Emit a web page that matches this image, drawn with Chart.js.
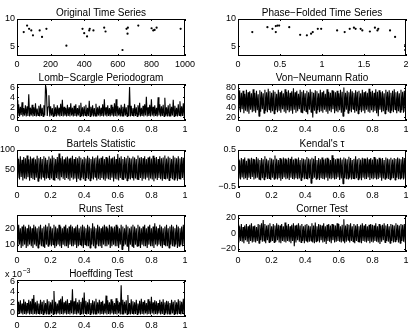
<!DOCTYPE html>
<html>
<head>
<meta charset="utf-8">
<script src="https://cdn.jsdelivr.net/npm/chart.js@4.4.1/dist/chart.umd.min.js"></script>
<style>
  html, body { margin: 0; padding: 0; background: #fff; }
  #figure { position: relative; width: 415px; height: 330px; overflow: hidden; }
  #figure canvas { position: absolute; }
</style>
</head>
<body>
<div id="figure"></div>
<script>
// Original light curve (time, magnitude)
const origTime = [40, 60, 72, 85, 95, 135, 149, 175, 294, 390, 400, 417, 430, 433, 455, 519, 527, 628, 652, 660, 658, 722, 801, 811, 819, 831, 974];
const origMag = [7.6, 8.8, 8.2, 7.9, 7.0, 7.9, 6.7, 8.2, 5.1, 8.2, 7.4, 6.8, 7.9, 8.2, 7.9, 8.4, 7.7, 4.3, 8.2, 8.4, 7.3, 8.8, 8.3, 7.9, 8.0, 8.4, 8.2];

// Phase-folded curve
const phase = [0.17, 0.35, 0.41, 0.45, 0.45, 0.47, 0.49, 0.61, 0.74, 0.82, 0.87, 0.89, 0.95, 0.99, 1.18, 1.27, 1.33, 1.38, 1.40, 1.46, 1.48, 1.57, 1.63, 1.67, 1.66, 1.81, 1.87, 1.99, 1.99];
const phaseMag = [7.6, 8.5, 8.2, 7.6, 8.7, 8.8, 8.8, 8.5, 7.1, 7.0, 7.3, 7.6, 8.2, 8.2, 7.9, 7.6, 8.2, 8.4, 8.2, 8.2, 7.9, 7.7, 8.4, 8.2, 7.9, 7.9, 6.7, 5.2, 4.3];

// Statistics over the frequency grid 0..1 (evenly spaced samples)
const lombScargle = [
  3.4,0.2,2.6,0.1,2.1,0.4,3.0,0.1,1.8,0.3,2.4,0.1,2.2,0.2,4.6,0.1,1.9,0.3,2.5,0.1,
  2.0,0.2,2.8,0.1,1.7,0.3,2.3,0.1,2.6,0.2,1.9,0.1,2.4,0.3,6.5,5.4,0.2,2.1,4.4,0.1,
  2.2,0.3,1.8,0.1,2.6,0.2,2.0,0.1,2.4,0.3,1.9,0.1,2.7,0.2,3.5,0.1,2.1,0.3,1.8,0.1,
  2.5,0.2,2.0,0.1,2.8,0.3,1.9,0.1,2.3,0.2,2.6,0.1,1.8,0.3,2.4,0.1,2.9,0.2,2.0,0.1,
  2.2,0.3,2.5,0.1,1.9,0.2,3.3,0.1,2.1,0.3,2.4,0.1,1.8,0.2,2.7,0.1,2.0,0.3,2.3,0.1,
  1.9,0.2,2.6,0.1,3.6,0.3,2.0,0.1,2.4,0.2,1.8,0.1,2.5,0.3,2.1,0.1,2.8,0.2,3.6,0.1,
  2.2,0.3,1.9,0.1,2.5,0.2,2.1,0.1,2.7,0.3,2.0,0.1,2.4,0.2,6.1,0.1,2.3,0.3,1.8,0.1,
  2.6,0.2,2.0,0.1,2.4,0.3,2.9,0.1,1.9,0.2,2.3,0.1,2.6,0.3,4.1,0.1,2.0,0.2,2.5,0.1,
  3.6,0.3,2.1,0.1,2.4,0.2,1.9,0.1,4.0,0.3,2.6,0.1,2.2,0.2,2.5,0.1,3.9,0.3,2.0,0.1,
  2.4,0.2,2.7,0.1,2.1,0.3,3.5,0.1,2.3,0.2,1.9,0.1,2.6,0.3,3.2,0.1,2.2,0.2,2.8,0.1,
  4.5
];
const vonNeumann = [
  72,34,75,30,70,36,74,28,68,33,76,31,71,27,73,35,69,30,77,32,
  70,29,74,34,67,22,75,31,72,36,69,28,76,33,71,30,78,35,73,29,
  70,32,75,27,72,34,68,30,76,33,71,29,74,36,69,31,77,28,72,34,
  75,30,70,33,73,27,79,35,71,29,74,32,68,36,76,30,72,28,75,33,
  69,31,74,26,71,35,77,30,72,19,70,33,75,28,73,34,69,30,76,32,
  71,29,74,35,68,31,77,27,72,33,70,30,75,36,73,28,71,32,74,30,
  69,34,76,29,72,22,81,31,70,35,74,28,71,33,77,30,73,36,70,29,
  75,32,72,27,74,34,69,30,76,33,71,28,73,35,70,31,78,29,72,34,
  74,30,70,33,77,28,72,22,75,35,71,30,73,32,69,27,76,34,72,31,
  75,29,70,33,74,30,77,35,71,28,73,32,69,30,76,34,72,29,74,31,
  76
];
const bartels = [
  80,28,77,24,84,31,75,22,82,27,79,25,86,30,76,21,83,28,78,25,
  81,23,76,29,85,20,79,27,82,24,77,30,84,22,80,26,75,29,83,23,
  78,27,86,24,80,21,77,28,82,25,91,22,79,30,84,26,76,23,81,28,
  83,25,78,21,80,29,85,24,77,27,82,18,79,26,84,23,80,29,76,25,
  82,22,78,28,85,25,80,21,77,27,83,24,79,30,81,22,86,26,78,23,
  80,28,84,24,77,21,82,27,79,25,85,23,78,29,81,19,83,26,77,24,
  90,22,80,28,84,25,77,23,82,27,79,21,85,26,80,24,78,29,83,22,
  81,27,77,25,86,23,80,28,82,21,79,26,84,24,77,29,81,22,83,27,
  78,24,85,20,80,27,82,23,77,28,84,25,79,21,81,27,86,24,78,26,
  83,22,80,28,77,25,85,23,81,27,79,21,84,26,78,24,82,28,80,23,
  88
];
const kendallTau = [
  0.26,-0.27,0.22,-0.30,0.28,-0.24,0.25,-0.29,0.30,-0.26,0.21,-0.31,0.27,-0.25,0.24,-0.28,0.29,-0.23,0.26,-0.30,
  0.24,-0.27,0.31,-0.25,0.27,-0.29,0.23,-0.32,0.28,-0.26,0.25,-0.30,0.33,-0.24,0.26,-0.28,0.22,-0.27,0.29,-0.31,
  0.27,-0.25,0.24,-0.29,0.35,-0.27,0.26,-0.30,0.23,-0.26,0.28,-0.33,0.25,-0.28,0.30,-0.24,0.27,-0.29,0.24,-0.27,
  0.29,-0.31,0.26,-0.25,0.32,-0.28,0.24,-0.30,0.27,-0.26,0.25,-0.29,0.30,-0.27,0.23,-0.32,0.28,-0.25,0.26,-0.29,
  0.24,-0.27,0.31,-0.30,0.27,-0.26,0.25,-0.40,0.29,-0.28,0.26,-0.25,0.34,-0.29,0.23,-0.27,0.28,-0.31,0.25,-0.26,
  0.30,-0.28,0.24,-0.30,0.27,-0.25,0.29,-0.33,0.26,-0.27,0.23,-0.29,0.36,-0.26,0.28,-0.30,0.25,-0.28,0.27,-0.24,
  0.26,-0.31,0.29,-0.27,0.24,-0.41,0.30,-0.26,0.27,-0.29,0.25,-0.28,0.32,-0.25,0.28,-0.30,0.23,-0.27,0.26,-0.29,
  0.33,-0.26,0.25,-0.30,0.28,-0.27,0.24,-0.32,0.29,-0.25,0.27,-0.29,0.26,-0.28,0.30,-0.24,0.25,-0.31,0.28,-0.27,
  0.24,-0.29,0.31,-0.26,0.27,-0.30,0.25,-0.28,0.29,-0.25,0.26,-0.33,0.28,-0.27,0.23,-0.29,0.30,-0.26,0.27,-0.28,
  0.25,-0.30,0.29,-0.27,0.24,-0.26,0.28,-0.31,0.26,-0.25,0.30,-0.29,0.27,-0.28,0.25,-0.26,0.31,-0.30,0.28,-0.27,
  0.33
];
const runsTest = [
  21,9,22,10,20,8,21,9,22,10,21,8,20,9,22,10,21,9,20,8,
  22,10,21,9,20,8,21,10,22,9,20,9,21,8,22,10,21,9,23,10,
  21,9,20,10,22,8,21,9,20,10,22,9,21,8,20,10,21,9,22,9,
  20,8,21,10,22,9,21,9,20,10,21,8,22,9,20,10,21,9,22,8,
  21,10,20,9,22,9,21,8,20,10,23,9,21,8,20,10,22,9,21,9,
  20,8,21,10,22,9,21,9,20,10,22,8,21,9,20,10,21,9,22,9,
  21,8,20,10,22,7,21,9,20,10,22,9,21,6,20,10,21,9,22,8,
  21,10,20,9,22,9,21,8,20,10,21,9,22,9,20,8,21,10,22,9,
  20,9,21,8,23,10,21,9,20,10,22,9,21,8,20,10,21,9,22,9,
  20,8,21,10,22,9,21,9,20,10,22,8,21,9,20,10,21,9,22,10,
  21
];
const cornerTest = [
  11,-12,9,-10,12,-11,8,-13,10,-9,12,-11,9,-14,11,-10,13,-12,9,-11,
  10,-12,8,-10,12,-13,11,-9,13,-11,17,-10,12,-13,10,-9,11,-12,13,-11,
  9,-10,12,-12,10,-11,13,-9,11,-12,10,-13,12,-10,9,-11,14,-12,10,-10,
  12,-11,9,-13,11,-10,13,-17,10,-12,11,-9,13,-11,10,-12,12,-10,9,-13,
  11,-10,12,-12,10,-11,9,-10,13,-12,10,-13,14,-11,9,-10,12,-12,11,-9,
  10,-12,13,-11,9,-14,11,-10,12,-11,10,-13,12,-9,11,-12,10,-11,13,-10,
  12,-11,9,-12,11,-10,18,-13,10,-11,12,-9,11,-12,13,-10,9,-11,12,-13,
  10,-10,12,-11,9,-12,11,-13,13,-10,10,-11,12,-12,9,-10,11,-13,12,-11,
  11,-12,10,-10,13,-11,9,-12,12,-14,10,-11,11,-9,13,-12,10,-10,12,-11,
  9,-13,12,-10,11,-12,10,-11,13,-9,11,-12,10,-13,12,-10,11,-11,12,-12,
  11
];
// Hoeffding values in units of 1e-3
const hoeffding = [
  2.3,-0.3,2.0,-0.2,2.4,-0.1,1.8,-0.3,2.6,-0.2,2.1,-0.3,1.9,-0.1,2.5,-0.3,2.2,-0.2,2.7,-0.3,
  3.4,-0.2,2.0,-0.3,2.3,-0.1,1.8,-0.3,2.5,-0.2,2.1,-0.3,2.4,-0.1,1.9,-0.3,2.6,-0.2,2.2,-0.3,
  2.0,-0.1,2.5,-0.3,4.2,-0.2,2.1,-0.3,1.8,-0.1,2.4,-0.3,2.7,-0.2,3.2,-0.3,2.0,-0.1,2.3,-0.3,
  2.6,-0.2,1.9,-0.3,2.4,-0.1,4.5,-0.3,2.2,-0.2,2.8,-0.3,2.0,-0.1,2.5,-0.3,2.1,-0.2,2.9,-0.3,
  3.9,-0.1,2.3,-0.3,2.0,-0.2,2.6,-0.3,1.9,-0.1,2.4,-0.3,2.2,-0.2,2.7,-0.3,2.0,-0.1,2.5,-0.3,
  2.1,-0.2,2.3,-0.3,1.8,-0.1,3.3,-0.3,2.4,-0.2,2.0,-0.3,2.6,-0.1,2.2,-0.3,1.9,-0.2,2.8,-0.3,
  2.3,-0.1,2.0,-0.3,5.3,-0.2,2.5,-0.3,2.1,-0.1,2.4,-0.3,3.4,-0.2,1.9,-0.3,2.6,-0.1,2.2,-0.3,
  2.0,-0.2,2.5,-0.3,1.8,-0.1,2.3,-0.3,2.7,-0.2,2.1,-0.3,2.4,-0.1,1.9,-0.3,2.6,-0.2,2.2,-0.3,
  3.1,-0.1,2.0,-0.3,2.4,-0.2,2.2,-0.3,1.9,-0.1,2.5,-0.3,2.1,-0.2,2.6,-0.3,2.0,-0.1,2.3,-0.3,
  2.2,-0.2,1.9,-0.3,2.5,-0.1,2.1,-0.3,2.4,-0.2,2.0,-0.3,2.6,-0.1,2.3,-0.3,2.1,-0.2,2.7,-0.3,
  3.3
];

// tick values
const timeTicks = [0, 200, 400, 600, 800, 1000];
const phaseTicks = [0, 0.5, 1, 1.5, 2];
const freqTicks = [0, 0.2, 0.4, 0.6, 0.8, 1];
const magTicks = [5, 10];
const lombTicks = [0, 2, 4, 6];
const vonTicks = [20, 40, 60, 80];
const bartelsTicks = [50, 100];
const kendallTicks = [-0.5, 0, 0.5];
const runsTicks = [10, 20];
const cornerTicks = [-20, 0, 20];
const hoeffTicks = [0, 2, 4, 6];

const FONT = '"Liberation Sans", Arial, Helvetica, sans-serif';
const colLeft = [17, 238];
const rowTop = [19, 84, 150, 215, 280];
const boxW = 168, boxH = 37;
const padTop = 18, padBottom = 13;

function pairs(xs, ys) {
  return xs.map((x, i) => ({ x: x, y: ys[i] }));
}
function overFreq(vals) {
  return vals.map((v, i) => ({ x: i / (vals.length - 1), y: v }));
}

const matlabAxes = {
  id: 'matlabAxes',
  afterDraw(chart, args, opts) {
    const { ctx, chartArea: a, scales } = chart;
    ctx.save();
    ctx.strokeStyle = '#000';
    ctx.lineWidth = 1;
    ctx.strokeRect(a.left + 0.5, a.top + 0.5, a.right - a.left - 1, a.bottom - a.top - 1);
    ctx.beginPath();
    scales.x.ticks.forEach(t => {
      const px = Math.round(scales.x.getPixelForValue(t.value)) + 0.5;
      ctx.moveTo(px, a.bottom); ctx.lineTo(px, a.bottom - 2);
      ctx.moveTo(px, a.top); ctx.lineTo(px, a.top + 2);
    });
    scales.y.ticks.forEach(t => {
      const py = Math.round(scales.y.getPixelForValue(t.value)) + 0.5;
      ctx.moveTo(a.left, py); ctx.lineTo(a.left + 2, py);
      ctx.moveTo(a.right, py); ctx.lineTo(a.right - 2, py);
    });
    ctx.stroke();

    ctx.fillStyle = '#000';
    ctx.font = '10px ' + FONT;
    ctx.textAlign = 'center';
    ctx.textBaseline = 'alphabetic';
    ctx.fillText(opts.title, (a.left + a.right) / 2, a.top - 3);
    if (opts.exponent) {
      ctx.textAlign = 'left';
      ctx.font = '9px ' + FONT;
      ctx.fillText('x 10', a.left - 12, a.top - 3);
      const w = ctx.measureText('x 10').width;
      ctx.font = '7px ' + FONT;
      ctx.fillText(opts.exponent, a.left - 12 + w + 0.5, a.top - 7);
    }
    ctx.restore();
  }
};

function fmt(v) {
  return String(v).replace('-', '\u2212');
}

function makePanel(p) {
  const left = colLeft[p.col], top = rowTop[p.row];
  const padL = p.col === 0 ? left : left - 206;
  const padR = p.col === 0 ? 20 : 9;
  const canvas = document.createElement('canvas');
  canvas.width = padL + boxW + padR;
  canvas.height = padTop + boxH + padBottom;
  canvas.style.left = (left - padL) + 'px';
  canvas.style.top = (top - padTop) + 'px';
  document.getElementById('figure').appendChild(canvas);

  const isScatter = p.kind === 'scatter';
  new Chart(canvas, {
    type: isScatter ? 'scatter' : 'line',
    data: {
      datasets: [{
        data: p.data,
        borderColor: '#000',
        backgroundColor: '#000',
        borderWidth: isScatter ? 0 : 1.1,
        borderJoinStyle: 'bevel',
        pointRadius: isScatter ? 1.1 : 0,
        showLine: !isScatter,
        tension: 0,
        fill: false
      }]
    },
    options: {
      responsive: false,
      animation: false,
      devicePixelRatio: 1,
      layout: { padding: { top: padTop, right: padR, left: 0, bottom: 0 } },
      plugins: {
        legend: { display: false },
        tooltip: { enabled: false },
        matlabAxes: { title: p.title, exponent: p.exponent }
      },
      scales: {
        x: {
          type: 'linear',
          min: p.xRange[0], max: p.xRange[1],
          grid: { display: false, drawTicks: false },
          border: { display: false },
          afterBuildTicks: s => { s.ticks = p.xTicks.map(v => ({ value: v })); },
          afterFit: s => { s.height = padBottom; },
          ticks: { color: '#000', font: { size: 9, family: FONT }, padding: 3, maxRotation: 0, autoSkip: false, callback: fmt }
        },
        y: {
          type: 'linear',
          min: p.yRange[0], max: p.yRange[1],
          grid: { display: false, drawTicks: false },
          border: { display: false },
          afterBuildTicks: s => { s.ticks = p.yTicks.map(v => ({ value: v })); },
          afterFit: s => { s.width = padL; },
          ticks: { color: '#000', font: { size: 9, family: FONT }, padding: 2, autoSkip: false, callback: fmt }
        }
      }
    },
    plugins: [matlabAxes]
  });
}

const panels = [
  { col: 0, row: 0, kind: 'scatter', title: 'Original Time Series', data: pairs(origTime, origMag), xRange: [0, 1000], xTicks: timeTicks, yRange: [3.2, 10], yTicks: magTicks },
  { col: 1, row: 0, kind: 'scatter', title: 'Phase\u2212Folded Time Series', data: pairs(phase, phaseMag), xRange: [0, 2], xTicks: phaseTicks, yRange: [3.2, 10], yTicks: magTicks },
  { col: 0, row: 1, title: 'Lomb\u2212Scargle Periodogram', data: overFreq(lombScargle), xRange: [0, 1], xTicks: freqTicks, yRange: [-0.8, 6.7], yTicks: lombTicks },
  { col: 1, row: 1, title: 'Von\u2212Neumann Ratio', data: overFreq(vonNeumann), xRange: [0, 1], xTicks: freqTicks, yRange: [12, 88], yTicks: vonTicks },
  { col: 0, row: 2, title: 'Bartels Statistic', data: overFreq(bartels), xRange: [0, 1], xTicks: freqTicks, yRange: [5, 100], yTicks: bartelsTicks },
  { col: 1, row: 2, title: "Kendal's \u03c4", data: overFreq(kendallTau), xRange: [0, 1], xTicks: freqTicks, yRange: [-0.5, 0.5], yTicks: kendallTicks },
  { col: 0, row: 3, title: 'Runs Test', data: overFreq(runsTest), xRange: [0, 1], xTicks: freqTicks, yRange: [5.5, 28], yTicks: runsTicks },
  { col: 1, row: 3, title: 'Corner Test', data: overFreq(cornerTest), xRange: [0, 1], xTicks: freqTicks, yRange: [-24.4, 23.6], yTicks: cornerTicks },
  { col: 0, row: 4, title: 'Hoeffding Test', exponent: '\u22123', data: overFreq(hoeffding), xRange: [0, 1], xTicks: freqTicks, yRange: [-0.8, 6.3], yTicks: hoeffTicks }
];

panels.forEach(makePanel);
</script>
</body>
</html>
